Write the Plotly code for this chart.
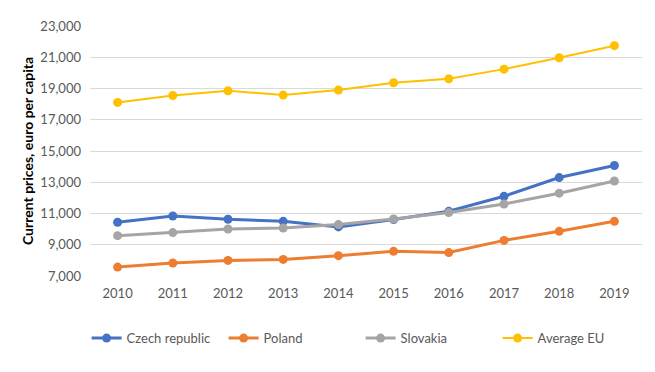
import plotly.graph_objects as go

years = ["2010", "2011", "2012", "2013", "2014", "2015", "2016", "2017", "2018", "2019"]

czech = [10440, 10840, 10630, 10500, 10140, 10610, 11140, 12100, 13300, 14070]
poland = [7570, 7830, 8000, 8060, 8300, 8580, 8500, 9280, 9860, 10500]
slovakia = [9580, 9780, 10010, 10070, 10290, 10650, 11060, 11610, 12300, 13080]
avg_eu = [18110, 18550, 18850, 18580, 18900, 19370, 19620, 20240, 20970, 21740]

y_ticks = [7000, 9000, 11000, 13000, 15000, 17000, 19000, 21000, 23000]

series = [
    ("Czech republic", czech, "#4472C4", 3),
    ("Poland", poland, "#ED7D31", 3),
    ("Slovakia", slovakia, "#A5A5A5", 3),
    ("Average EU", avg_eu, "#FFC000", 2),
]

fig = go.Figure()
for name, vals, color, w in series:
    fig.add_trace(go.Scatter(
        x=years, y=vals, name=name, mode="lines+markers",
        line=dict(color=color, width=w),
        marker=dict(color=color, size=9),
    ))

# the page body keeps its 8px default margin, so the figure is drawn 8px smaller
fig.update_layout(
    width=647, height=364,
    margin=dict(l=82, r=13, t=18, b=96, autoexpand=False),
    paper_bgcolor="white", plot_bgcolor="white",
    font=dict(family="Lato, Liberation Sans, sans-serif", size=13, color="#595959"),
    legend=dict(
        orientation="h", x=0.545, xref="container", xanchor="center",
        y=0.093, yref="container", yanchor="middle",
        itemwidth=30, entrywidth=92, traceorder="normal",
        font=dict(size=13, color="#595959"),
    ),
)
fig.update_xaxes(
    type="category", range=[-0.5, 9.5], showgrid=False, zeroline=False,
    showline=False, ticks="", ticklabelstandoff=8,
)
fig.update_yaxes(
    range=[7000, 23000], tickvals=y_ticks, tickformat=",d",
    showgrid=True, gridcolor="#D9D9D9", gridwidth=1, zeroline=False,
    showline=False, ticks="", ticklabelstandoff=8,
    title=dict(text="<b>Current prices, euro per capita</b>",
               font=dict(size=14, color="black"), standoff=3),
)

fig.write_html("out.html")
